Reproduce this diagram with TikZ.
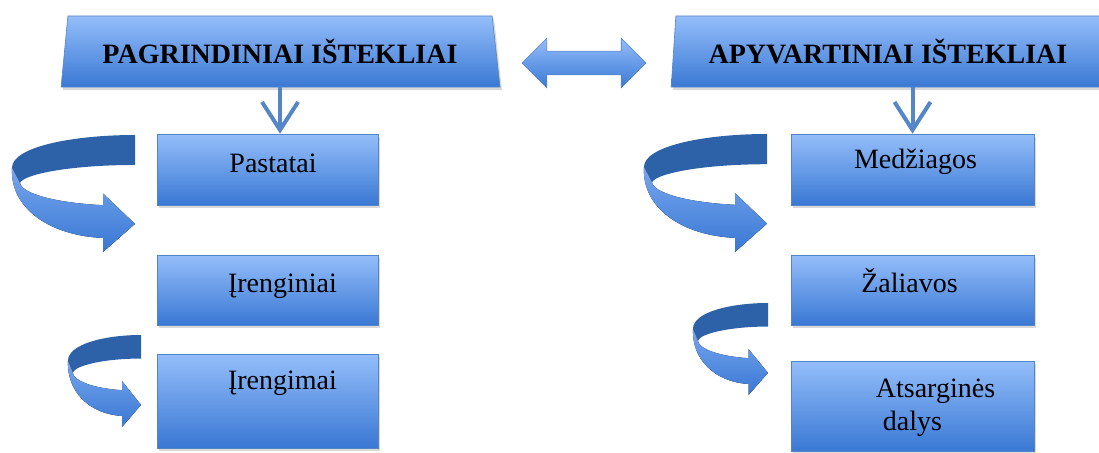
\documentclass[tikz,border=0pt]{standalone}
\usepackage{fontspec}
\setmainfont{Liberation Serif}
\usetikzlibrary{shapes.geometric, shapes.arrows, arrows.meta, shadows}
\definecolor{boxtop}{RGB}{148,190,250}
\definecolor{boxbot}{RGB}{58,120,212}
\definecolor{boxline}{RGB}{84,132,200}
\definecolor{ribbondark}{RGB}{45,98,168}
\definecolor{ribbonlight}{RGB}{118,166,238}
\definecolor{arrowblue}{RGB}{84,134,200}
\tikzset{
  box/.style = {rectangle, draw=boxline, line width=0.6pt, top color=boxtop, bottom color=boxbot, inner sep=0pt, text height=19pt, font=\fontsize{28}{33}\selectfont, drop shadow={opacity=0.3, shadow xshift=2pt, shadow yshift=-3pt}},
  header/.style = {trapezium, trapezium stretches=true, draw=boxline, line width=0.6pt, top color=boxtop, bottom color=boxbot, inner sep=0pt, minimum height=71pt, font=\bfseries\fontsize{28}{33}\selectfont, drop shadow={opacity=0.3, shadow xshift=2pt, shadow yshift=-3pt}},
  down/.style = {draw=arrowblue, line width=4pt, -{Straight Barb[length=28pt, width=36pt]}},
  exchange/.style = {double arrow, draw=boxline, line width=0.6pt, top color=boxtop, bottom color=boxbot, inner sep=0pt, text height=23pt, text depth=0pt, minimum height=124pt, minimum width=49pt, double arrow head extend=13pt},
  bend/.pic = {
    \fill[ribbondark] (1,0) .. controls (0.5,0) and (0,0.1) .. (0,0.28) -- (0.065,0.41) .. controls (0.1,0.33) and (0.5,0.256) .. (1,0.256) -- cycle;
    \fill[top color=ribbonlight, bottom color=boxbot] (0,0.28) .. controls (-0.02,0.62) and (0.3,0.86) .. (0.74,0.88) -- (0.74,1) -- (1,0.76) -- (0.74,0.5) -- (0.74,0.6) .. controls (0.35,0.58) and (0.08,0.5) .. (0.065,0.41) -- cycle;
  }
}

\begin{document}
\begin{tikzpicture}[x=1pt, y=-1pt]
\useasboundingbox (0,0) rectangle (1099,452);

\node[header, minimum width=440pt, trapezium left angle=77, trapezium right angle=75] (pagr) at (280,51.5) {PAGRINDINIAI IŠTEKLIAI};
\node[header, minimum width=438pt, trapezium left angle=81, trapezium right angle=75] (apyv) at (888,51.5) {APYVARTINIAI IŠTEKLIAI};
\node[exchange] (mainai) at (584,63) {};

\node[box, minimum width=221pt, minimum height=71pt, text depth=14pt] (pastatai) at (267.5,169.5) {\hspace*{11pt}Pastatai};
\node[box, minimum width=221pt, minimum height=70pt, text depth=15pt] (irenginiai) at (267.5,290) {\hspace*{30pt}Įrenginiai};
\node[box, minimum width=221pt, minimum height=94pt, text depth=43pt] (irengimai) at (267.5,401) {\hspace*{30pt}Įrengimai};

\node[box, minimum width=243pt, minimum height=71pt, text depth=22pt] (medziagos) at (912.5,169.5) {\hspace*{6pt}Medžiagos};
\node[box, minimum width=243pt, minimum height=70pt, text depth=15pt] (zaliavos) at (912.5,290) {Žaliavos\hspace*{6pt}};
\node[box, minimum width=243pt, minimum height=90pt, text height=52pt, text depth=4pt, align=left] (atsargines) at (912.5,406) {\hspace*{46pt}Atsarginės\\\hspace*{53pt}dalys};

\draw[down] (pagr.south) -- (pagr.south |- pastatai.north);
\draw[down] (medziagos.north |- apyv.south) -- (medziagos.north);

% bent arrows beside the boxes
\pic[xscale=123, yscale=117] at (12,135) {bend};
\pic[xscale=73, yscale=92] at (68,335) {bend};
\pic[xscale=123, yscale=118] at (644,134) {bend};
\pic[xscale=75, yscale=92] at (693,303) {bend};

\end{tikzpicture}
\end{document}
